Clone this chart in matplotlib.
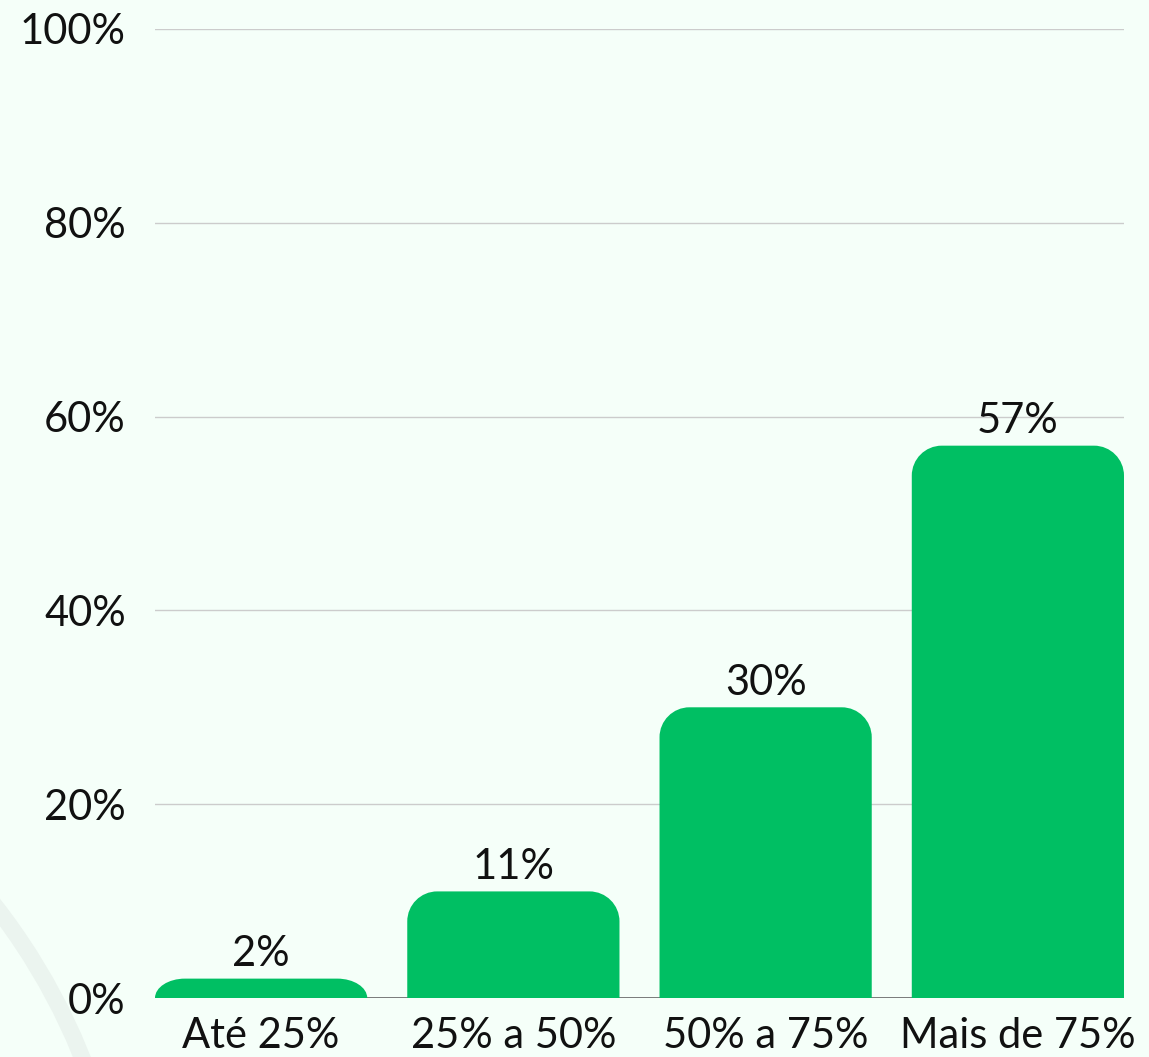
import numpy as np
import matplotlib
matplotlib.use('Agg')
import matplotlib.pyplot as plt
from matplotlib.path import Path
from matplotlib.patches import PathPatch, Arc

# Data
categories = ['Até 25%', '25% a 50%', '50% a 75%', 'Mais de 75%']
values = [2, 11, 30, 57]
yticks = [0, 20, 40, 60, 80, 100]

bg = '#F5FFF9'
green = '#00BF63'

plt.rcParams['font.family'] = ['Lato', 'DejaVu Sans']

W, H = 1149, 1057
fig = plt.figure(figsize=(W / 100, H / 100), dpi=100, facecolor=bg)

# faint decorative arc in the lower left corner
bgax = fig.add_axes([0, 0, 1, 1])
bgax.set_xlim(0, W)
bgax.set_ylim(H, 0)
bgax.axis('off')
bgax.add_patch(Arc((-498, 1290), 2 * 625, 2 * 625, theta1=-90, theta2=0,
                   color='#EBF4EF', lw=12))

ax = fig.add_axes([155 / W, (H - 998) / H, (1124 - 155) / W, (998 - 29) / H])
ax.set_facecolor('none')

x = np.arange(len(categories))
width = 212 / 252
ax.set_xlim(-width / 2, len(categories) - 1 + width / 2)
ax.set_ylim(0, 100)

# pixel -> data scales for the rounded corners
px_x = (len(categories) - 1 + width) / (1124 - 155)
px_y = 100 / (998 - 29)
r_px = 30


def rounded_bar(ax, xc, h, w):
    rx = r_px * px_x
    ry = min(r_px * px_y, h)
    k = 0.5523
    x0, x1 = xc - w / 2, xc + w / 2
    verts = [
        (x0, 0), (x0, h - ry),
        (x0, h - ry + k * ry), (x0 + rx - k * rx, h), (x0 + rx, h),
        (x1 - rx, h),
        (x1 - rx + k * rx, h), (x1, h - ry + k * ry), (x1, h - ry),
        (x1, 0), (x0, 0),
    ]
    codes = [Path.MOVETO, Path.LINETO,
             Path.CURVE4, Path.CURVE4, Path.CURVE4,
             Path.LINETO,
             Path.CURVE4, Path.CURVE4, Path.CURVE4,
             Path.LINETO, Path.CLOSEPOLY]
    ax.add_patch(PathPatch(Path(verts, codes), facecolor=green,
                           edgecolor='none', zorder=3))


fs = 30
for xi, v in zip(x, values):
    rounded_bar(ax, xi, v, width)
    ax.annotate(f'{v}%', (xi, v), xytext=(0, 4), textcoords='offset points',
                ha='center', va='bottom', fontsize=fs, color='#111111', zorder=4)

ax.set_yticks(yticks)
ax.set_yticklabels([f'{t}%' for t in yticks])
ax.set_xticks(x)
ax.set_xticklabels(categories)
ax.tick_params(axis='y', length=0, pad=21, labelsize=fs, labelcolor='#111111')
ax.tick_params(axis='x', length=0, pad=14, labelsize=fs, labelcolor='#111111')

ax.grid(axis='y', color='#CCCCCC', linewidth=1, zorder=0)
ax.axhline(0, color='#666666', linewidth=1.2, zorder=2)
for s in ax.spines.values():
    s.set_visible(False)

fig.savefig('out.png', dpi=100, facecolor=bg)
